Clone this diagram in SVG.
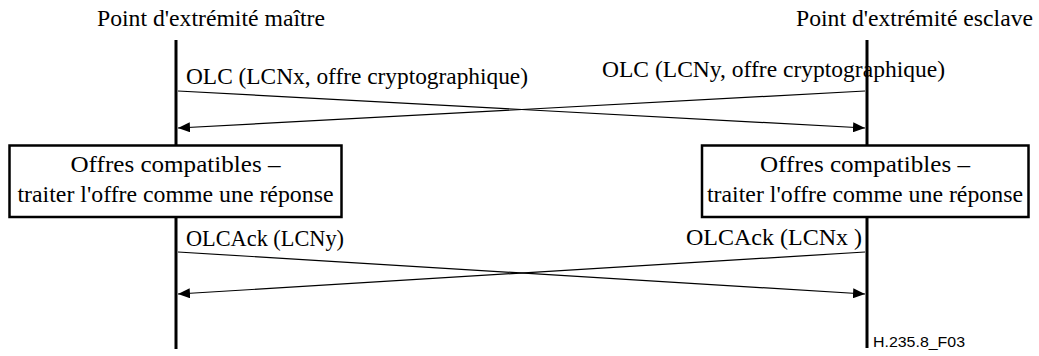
<svg xmlns="http://www.w3.org/2000/svg" width="1039" height="356" viewBox="0 0 1039 356">
  <style>
    .lbl { font-family: 'Liberation Serif', 'Times New Roman', serif; font-size: 23px; fill: #000; }
    .tag { font-family: 'Liberation Sans', Arial, sans-serif; font-size: 15px; fill: #000; }
    .life { stroke: #000; stroke-width: 3; fill: none; }
    .msg { stroke: #000; stroke-width: 1.2; fill: none; marker-end: url(#arrow); }
    .box { fill: #fff; stroke: #000; stroke-width: 2.5; }
  </style>
  <defs>
    <marker id="arrow" viewBox="0 0 12 10" refX="12" refY="5" markerWidth="12" markerHeight="10" markerUnits="userSpaceOnUse" orient="auto">
      <path d="M0,0 L12,5 L0,10 Z" fill="#000"/>
    </marker>
  </defs>
  <rect width="1039" height="356" fill="#fff"/>

  <!-- lifelines -->
  <g id="master">
    <text class="lbl" x="97" y="26" textLength="228" lengthAdjust="spacingAndGlyphs">Point d'extrémité maître</text>
    <line class="life" x1="176" y1="40" x2="176" y2="349"/>
  </g>
  <g id="slave">
    <text class="lbl" x="796" y="26" textLength="237" lengthAdjust="spacingAndGlyphs">Point d'extrémité esclave</text>
    <line class="life" x1="867" y1="40" x2="867" y2="348"/>
  </g>

  <!-- messages -->
  <g id="connectors">
    <line class="msg" x1="178" y1="91" x2="865" y2="128"/>
    <line class="msg" x1="865" y1="91" x2="178" y2="128"/>
    <line class="msg" x1="178" y1="252" x2="865" y2="294"/>
    <line class="msg" x1="865" y1="252" x2="178" y2="294"/>
    <text class="lbl" x="186" y="84" textLength="342" lengthAdjust="spacingAndGlyphs">OLC (LCNx, offre cryptographique)</text>
    <text class="lbl" x="602" y="77" textLength="343" lengthAdjust="spacingAndGlyphs">OLC (LCNy, offre cryptographique)</text>
    <text class="lbl" x="186" y="246" textLength="158" lengthAdjust="spacingAndGlyphs">OLCAck (LCNy)</text>
    <text class="lbl" x="686" y="245" textLength="176" lengthAdjust="spacingAndGlyphs">OLCAck (LCNx )</text>
  </g>

  <!-- processing boxes -->
  <g id="box-master">
    <rect class="box" x="9.5" y="145.5" width="332" height="71.5"/>
    <text class="lbl" x="70.5" y="172" textLength="210" lengthAdjust="spacingAndGlyphs">Offres compatibles –</text>
    <text class="lbl" x="17.5" y="202" textLength="316" lengthAdjust="spacingAndGlyphs">traiter l'offre comme une réponse</text>
  </g>
  <g id="box-slave">
    <rect class="box" x="702" y="145.5" width="326.5" height="71.5"/>
    <text class="lbl" x="760" y="172" textLength="210" lengthAdjust="spacingAndGlyphs">Offres compatibles –</text>
    <text class="lbl" x="707" y="202" textLength="316" lengthAdjust="spacingAndGlyphs">traiter l'offre comme une réponse</text>
  </g>

  <text class="tag" x="873" y="347" textLength="92" lengthAdjust="spacingAndGlyphs">H.235.8_F03</text>
</svg>
